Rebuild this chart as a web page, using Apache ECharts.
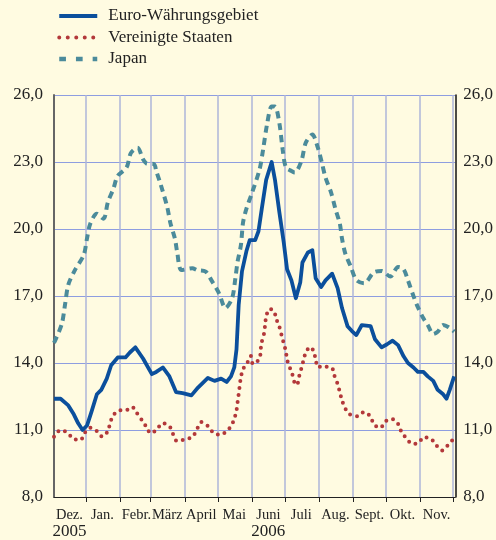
<!DOCTYPE html>
<html>
<head>
<meta charset="utf-8">
<script src="https://cdn.jsdelivr.net/npm/echarts@6/dist/echarts.min.js"></script>
<style>
  html, body { margin: 0; padding: 0; background: #fffbe1; }
  #chart { width: 496px; height: 540px; }
</style>
</head>
<body>
<div id="chart"></div>
<script>
// Euro-Währungsgebiet (solid line)
const euroDates = [
  '2005-12-03', '2005-12-09', '2005-12-16', '2005-12-21', '2005-12-25', '2005-12-29',
  '2006-01-02', '2006-01-06', '2006-01-11', '2006-01-15', '2006-01-20', '2006-01-24', '2006-01-30',
  '2006-02-06', '2006-02-10', '2006-02-15', '2006-02-22',
  '2006-03-02', '2006-03-06', '2006-03-12', '2006-03-18', '2006-03-24', '2006-03-30',
  '2006-04-07', '2006-04-13', '2006-04-22', '2006-04-28',
  '2006-05-04', '2006-05-09', '2006-05-13', '2006-05-16', '2006-05-18', '2006-05-20', '2006-05-23', '2006-05-27', '2006-05-30',
  '2006-06-04', '2006-06-07', '2006-06-10', '2006-06-14', '2006-06-19', '2006-06-22', '2006-06-26', '2006-06-30',
  '2006-07-03', '2006-07-07', '2006-07-11', '2006-07-15', '2006-07-17', '2006-07-22', '2006-07-26', '2006-07-29',
  '2006-08-03', '2006-08-07', '2006-08-13', '2006-08-18', '2006-08-22', '2006-08-27', '2006-08-31',
  '2006-09-04', '2006-09-09', '2006-09-17', '2006-09-21', '2006-09-27',
  '2006-10-02', '2006-10-07', '2006-10-12', '2006-10-17', '2006-10-21', '2006-10-26', '2006-10-30',
  '2006-11-04', '2006-11-08', '2006-11-13', '2006-11-17', '2006-11-22', '2006-11-25', '2006-11-28', '2006-12-02'
];
const euroValues = [
  12.4, 12.4, 12.1, 11.7, 11.3, 11.0,
  11.2, 11.8, 12.6, 12.8, 13.3, 13.9, 14.25,
  14.25, 14.47, 14.7, 14.2,
  13.5, 13.6, 13.8, 13.4, 12.7, 12.65,
  12.55, 12.9, 13.33, 13.2,
  13.3, 13.15, 13.4, 13.8, 14.6, 16.6, 18.1, 19.0, 19.5,
  19.5, 19.9, 20.9, 22.2, 23.0, 22.2, 20.75, 19.4,
  18.2, 17.7, 16.9, 17.6, 18.5, 18.95, 19.05, 17.8,
  17.4, 17.7, 18.0, 17.35, 16.46, 15.65, 15.43,
  15.25, 15.7, 15.65, 15.06, 14.7,
  14.84, 15.0, 14.8, 14.3, 14.0, 13.8, 13.6,
  13.6, 13.4, 13.2, 12.8, 12.6, 12.4, 12.8, 13.4
];

// Vereinigte Staaten (dotted line)
const usDates = [
  '2005-12-03', '2005-12-09', '2005-12-15', '2005-12-21', '2005-12-27', '2005-12-31',
  '2006-01-05', '2006-01-11', '2006-01-16', '2006-01-21', '2006-01-23', '2006-01-26',
  '2006-02-01', '2006-02-06', '2006-02-12', '2006-02-16', '2006-02-21', '2006-02-25',
  '2006-03-01', '2006-03-06', '2006-03-12', '2006-03-18', '2006-03-21', '2006-03-25',
  '2006-04-01', '2006-04-08', '2006-04-12', '2006-04-16', '2006-04-22', '2006-04-27',
  '2006-05-03', '2006-05-08', '2006-05-13', '2006-05-16', '2006-05-18', '2006-05-19', '2006-05-20',
  '2006-05-21', '2006-05-22', '2006-05-24', '2006-05-28', '2006-05-31',
  '2006-06-02', '2006-06-08', '2006-06-09', '2006-06-10', '2006-06-12', '2006-06-13', '2006-06-14',
  '2006-06-17', '2006-06-21', '2006-06-23', '2006-06-26', '2006-06-28', '2006-06-30',
  '2006-07-02', '2006-07-03', '2006-07-08', '2006-07-10', '2006-07-12', '2006-07-14', '2006-07-16',
  '2006-07-18', '2006-07-20', '2006-07-24', '2006-07-27', '2006-07-29', '2006-07-31',
  '2006-08-03', '2006-08-07', '2006-08-13', '2006-08-15', '2006-08-18', '2006-08-20', '2006-08-22',
  '2006-08-25', '2006-08-29', '2006-09-05', '2006-09-11', '2006-09-17', '2006-09-20', '2006-09-26', '2006-09-30',
  '2006-10-06', '2006-10-12', '2006-10-15', '2006-10-20', '2006-10-25', '2006-10-31',
  '2006-11-04', '2006-11-11', '2006-11-16', '2006-11-21', '2006-11-26', '2006-12-01'
];
const usValues = [
  10.7, 11.0, 10.88, 10.6, 10.55, 10.88,
  11.1, 10.95, 10.7, 10.95, 11.3, 11.66,
  11.88, 11.88, 12.03, 11.78, 11.44, 11.14,
  10.85, 11.0, 11.3, 11.17, 10.85, 10.5,
  10.58, 10.7, 11.03, 11.36, 11.18, 10.88,
  10.78, 10.9, 11.17, 11.5, 11.88, 12.25, 12.62,
  13.0, 13.36, 13.73, 14.03, 14.32,
  13.95, 14.2, 14.6, 14.94, 15.3, 15.68, 16.07,
  16.42, 16.35, 16.0, 15.62, 15.25, 14.88,
  14.51, 14.15, 13.46, 13.1, 13.02, 13.4, 13.76,
  14.13, 14.47, 14.72, 14.54, 14.17, 13.8,
  13.85, 13.84, 13.77, 13.44, 13.06, 12.7, 12.33,
  11.96, 11.7, 11.62, 11.81, 11.59, 11.25, 11.1, 11.37,
  11.5, 11.27, 10.92, 10.6, 10.38, 10.43,
  10.67, 10.6, 10.3, 10.08, 10.3, 10.58
];

// Japan (dashed line)
const jpDates = [
  '2005-12-03', '2005-12-10', '2005-12-13', '2005-12-16', '2005-12-22', '2005-12-30',
  '2006-01-02', '2006-01-05', '2006-01-11', '2006-01-17', '2006-01-21', '2006-01-26', '2006-01-30',
  '2006-02-07', '2006-02-11', '2006-02-17', '2006-02-22', '2006-02-25',
  '2006-03-04', '2006-03-06', '2006-03-10', '2006-03-16', '2006-03-19', '2006-03-23', '2006-03-25', '2006-03-29',
  '2006-04-08', '2006-04-12', '2006-04-20', '2006-04-25',
  '2006-05-02', '2006-05-08', '2006-05-14', '2006-05-17', '2006-05-19', '2006-05-22', '2006-05-24', '2006-05-27',
  '2006-06-01', '2006-06-08', '2006-06-11', '2006-06-15', '2006-06-19', '2006-06-22', '2006-06-26', '2006-06-29',
  '2006-07-02', '2006-07-07', '2006-07-10', '2006-07-16', '2006-07-20', '2006-07-26', '2006-07-31',
  '2006-08-04', '2006-08-07', '2006-08-12', '2006-08-16', '2006-08-20', '2006-08-22', '2006-08-25', '2006-08-30',
  '2006-09-04', '2006-09-11', '2006-09-20', '2006-09-27',
  '2006-10-05', '2006-10-12', '2006-10-17', '2006-10-21', '2006-10-26', '2006-10-30',
  '2006-11-04', '2006-11-08', '2006-11-13', '2006-11-17', '2006-11-22', '2006-11-27', '2006-12-02'
];
const jpValues = [
  14.9, 15.73, 16.6, 17.5, 18.16, 18.83,
  19.57, 20.24, 20.68, 20.46, 21.2, 21.8, 22.38,
  22.75, 23.41, 23.64, 23.12, 22.94,
  22.9, 22.6, 22.0, 20.98, 20.24, 19.57, 18.98, 18.16,
  18.24, 18.16, 18.09, 17.72,
  17.13, 16.46, 16.9, 17.8, 18.54, 19.27, 20.3, 20.9,
  21.6, 22.67, 23.49, 24.74, 25.48, 25.48, 24.74, 23.56,
  22.75, 22.6, 22.53, 23.04, 23.86, 24.23, 23.64,
  22.9, 22.3, 21.64, 20.9, 20.24, 19.57, 18.9, 18.31,
  17.72, 17.57, 18.06, 18.12,
  17.87, 18.3, 18.2, 17.7, 17.0, 16.5,
  16.0, 15.7, 15.3, 15.4, 15.7, 15.6, 15.4
];

const monthLabels = ['Jan.', 'Febr.', 'März', 'April', 'Mai', 'Juni', 'Juli', 'Aug.', 'Sept.', 'Okt.', 'Nov.', 'Dez.'];
const yearLabels = { 11: '2005', 5: '2006' };
const seriesNames = ['Euro-Währungsgebiet', 'Vereinigte Staaten', 'Japan'];

// local-time timestamp from 'YYYY-MM-DD'
const ts = s => {
  const p = s.split('-').map(Number);
  return new Date(p[0], p[1] - 1, p[2]).getTime();
};

const axisStart = ts('2005-12-03');
const axisEnd = ts('2006-12-03');

// month boundaries (ticks + vertical lines) and mid-month label positions
const monthStarts = [];
const monthMids = [ts('2005-12-17')];
for (let m = 0; m < 12; m++) {
  monthStarts.push(new Date(2006, m, 1).getTime());
}
for (let m = 0; m < 11; m++) {
  monthMids.push(new Date(2006, m, 16).getTime());
}

const pairs = (dates, values) => dates.map((d, i) => [ts(d), values[i]]);
const fmt = v => v.toFixed(1).replace('.', ',');
const serif = 'Liberation Serif';

const chart = echarts.init(document.getElementById('chart'));

chart.setOption({
  animation: false,
  backgroundColor: '#fffbe1',
  legend: {
    orient: 'vertical',
    left: 52,
    top: 1,
    itemWidth: 38,
    itemHeight: 14,
    itemGap: 1.5,
    data: [
      { name: seriesNames[0], lineStyle: { width: 4 } },
      { name: seriesNames[1], lineStyle: { width: 4, type: [0, 8.5], cap: 'round' } },
      { name: seriesNames[2], lineStyle: { width: 4.5, type: [6.7, 10] } }
    ],
    itemStyle: { opacity: 0 },
    textStyle: { fontFamily: serif, fontSize: 17, color: '#222', lineHeight: 20, padding: [0, 0, 0, 6] }
  },
  grid: { left: 54, right: 39, top: 95, bottom: 40 },
  xAxis: {
    type: 'value',
    min: axisStart,
    max: axisEnd,
    axisLine: { show: true, lineStyle: { color: '#222', width: 1 } },
    axisTick: { show: true, length: 5, customValues: monthStarts, lineStyle: { color: '#222', width: 1 } },
    splitLine: { show: true, lineStyle: { color: '#aeb6d8', width: 1.5 } },
    axisLabel: {
      customValues: monthMids,
      margin: 10,
      formatter: function (value) {
        const m = new Date(value).getMonth();
        let s = '{m|' + monthLabels[m] + '}';
        if (yearLabels[m]) s += '\n{y|' + yearLabels[m] + '}';
        return s;
      },
      rich: {
        m: { fontFamily: serif, fontSize: 14.5, color: '#222', lineHeight: 16 },
        y: { fontFamily: serif, fontSize: 17, color: '#222', lineHeight: 17 }
      }
    }
  },
  yAxis: [
    {
      type: 'value',
      min: 8, max: 26, interval: 3,
      position: 'left',
      axisLine: { show: true, lineStyle: { color: '#666', width: 2 } },
      axisTick: { show: false },
      splitLine: { show: true, lineStyle: { color: '#8e9de0', width: 1 } },
      axisLabel: { formatter: fmt, margin: 11, fontFamily: serif, fontSize: 17, color: '#222' }
    },
    {
      type: 'value',
      min: 8, max: 26, interval: 3,
      position: 'right',
      axisLine: { show: true, lineStyle: { color: '#111', width: 1.5 } },
      axisTick: { show: false },
      splitLine: { show: false },
      axisLabel: { formatter: fmt, margin: 8, fontFamily: serif, fontSize: 17, color: '#222' }
    }
  ],
  series: [
    {
      name: seriesNames[2],
      type: 'line',
      data: pairs(jpDates, jpValues),
      symbol: 'none',
      smooth: 0.3,
      color: '#4b8b9b',
      lineStyle: { width: 4, type: [7, 5], color: '#4b8b9b' },
      z: 2
    },
    {
      name: seriesNames[1],
      type: 'line',
      data: pairs(usDates, usValues),
      symbol: 'none',
      smooth: 0.3,
      color: '#b3383a',
      lineStyle: { width: 4, type: [0, 7], cap: 'round', color: '#b3383a' },
      z: 3
    },
    {
      name: seriesNames[0],
      type: 'line',
      data: pairs(euroDates, euroValues),
      symbol: 'none',
      color: '#0b4f9c',
      lineStyle: { width: 3.8, color: '#0b4f9c', join: 'round' },
      z: 4
    }
  ]
});
</script>
</body>
</html>
